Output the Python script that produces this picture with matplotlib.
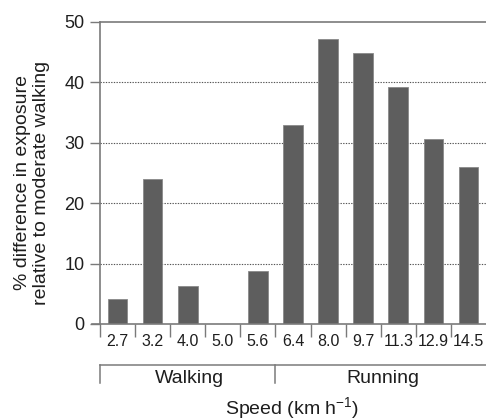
import matplotlib.pyplot as plt
import matplotlib.transforms as mtransforms

speeds = ["2.7", "3.2", "4.0", "5.0", "5.6", "6.4", "8.0", "9.7", "11.3", "12.9", "14.5"]
diff_pct = [4.1, 24.0, 6.3, 0.0, 8.8, 32.9, 47.2, 44.8, 39.3, 30.7, 26.0]
groups = ["Walking", "Running"]

plt.rcParams['font.family'] = ['Liberation Sans', 'DejaVu Sans']
plt.rcParams['mathtext.fontset'] = 'custom'
plt.rcParams['mathtext.rm'] = 'Liberation Sans'
plt.rcParams['mathtext.default'] = 'rm'
txt = '#1e1e1e'
axis_col = '#7a7a7a'

fig = plt.figure(figsize=(4.86, 4.2), dpi=100)
ax = fig.add_axes([100 / 486, 96 / 420, 386 / 486, 302 / 420])

x = list(range(len(speeds)))
ax.bar(x, diff_pct, width=0.56, color='#5e5e5e', edgecolor='#8a8a8a', linewidth=0.6, zorder=3)

ax.set_xlim(-0.5, len(speeds) - 0.5)
ax.set_ylim(0, 50)
ax.set_yticks([0, 10, 20, 30, 40, 50])
ax.tick_params(axis='y', labelsize=13, length=7, color=axis_col, labelcolor=txt, width=1, pad=4)

# category labels sit between the boundary ticks
ax.set_xticks(x)
ax.set_xticklabels(speeds)
ax.tick_params(axis='x', which='major', length=0, labelsize=11.5, labelcolor=txt, pad=7)
ax.set_xticks([i - 0.5 for i in x], minor=True)
ax.tick_params(axis='x', which='minor', length=9, color=axis_col, width=1)

for yv in [10, 20, 30, 40]:
    ax.axhline(yv, color='#555555', linestyle=(0, (1.2, 1.2)), linewidth=0.8, zorder=1)

for s in ['right', 'bottom']:
    ax.spines[s].set_visible(False)
ax.spines['left'].set_color(axis_col)
ax.spines['top'].set_color(axis_col)
ax.spines['top'].set_linewidth(1.2)
ax.spines['left'].set_linewidth(1.2)
ax.plot([-0.72, len(speeds) - 0.5], [0, 0], color=axis_col, linewidth=1.2, clip_on=False, zorder=4)

ax.set_ylabel("% difference in exposure\nrelative to moderate walking",
              fontsize=14, color=txt, linespacing=1.12)
ax.yaxis.set_label_coords(-0.13, 0.467)

# walking / running bracket
tr = mtransforms.blended_transform_factory(ax.transData, ax.transAxes)
ax.plot([-0.5, len(speeds) - 0.5], [-0.137, -0.137], color=axis_col, lw=1.1, transform=tr, clip_on=False)
ax.plot([-0.5, -0.5], [-0.137, -0.196], color=axis_col, lw=1.1, transform=tr, clip_on=False)
ax.plot([4.5, 4.5], [-0.137, -0.196], color=axis_col, lw=1.1, transform=tr, clip_on=False)
ax.text(2.06, -0.18, groups[0], transform=tr, ha='center', va='center', fontsize=14, color=txt)
ax.text(7.56, -0.18, groups[1], transform=tr, ha='center', va='center', fontsize=14, color=txt)
ax.text(4.97, -0.277, "Speed (km h$^{\\mathrm{-1}}$)", transform=tr, ha='center', va='center', fontsize=14, color=txt)

plt.savefig("out.png", dpi=100)
plt.close()
